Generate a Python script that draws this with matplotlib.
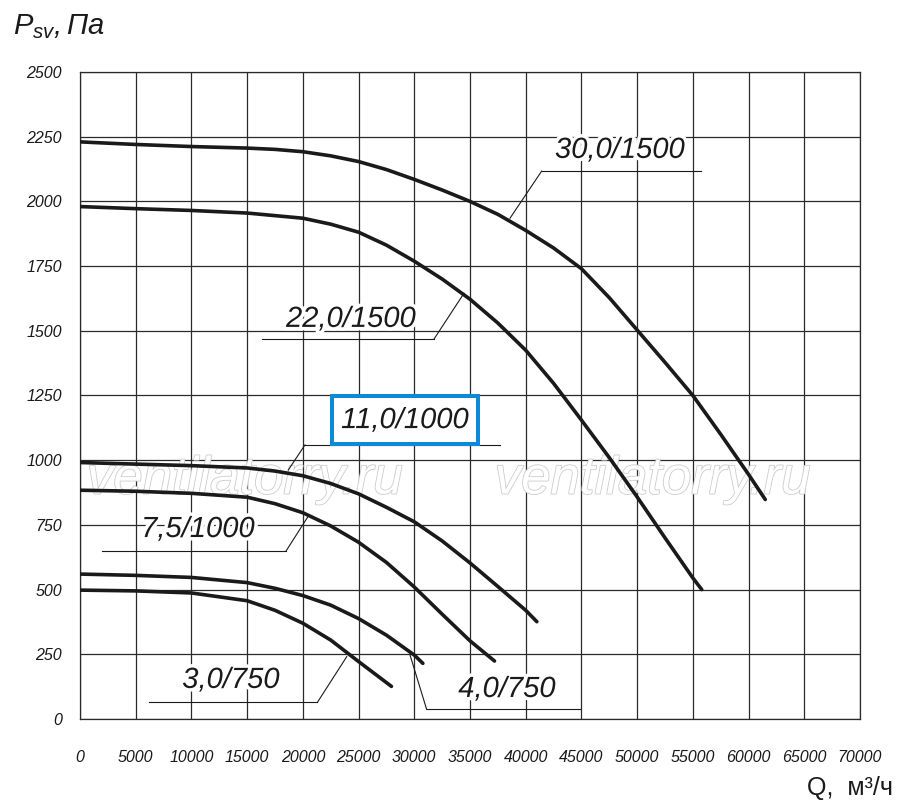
import matplotlib
matplotlib.use("Agg")
import matplotlib.pyplot as plt
import matplotlib.patheffects as pe
from matplotlib import font_manager as fm
from matplotlib.patches import Rectangle

# ---------------- data ----------------
q_30 = [0, 5000, 10000, 15000, 17500, 20000, 22500, 25000, 27500, 30000, 32500, 35000,
        37500, 40000, 42500, 45000, 47500, 50000, 52500, 55000, 57500, 60000, 61500]
p_30 = [2230, 2220, 2212, 2206, 2201, 2192, 2176, 2154, 2123, 2085, 2044, 2000,
        1950, 1888, 1820, 1740, 1628, 1503, 1378, 1250, 1100, 945, 848]

q_22 = [0, 5000, 10000, 15000, 20000, 22500, 25000, 27500, 30000, 32500, 35000,
        37500, 40000, 42500, 45000, 47500, 50000, 52500, 55000, 55800]
p_22 = [1980, 1972, 1965, 1955, 1935, 1912, 1881, 1831, 1769, 1700, 1622,
        1530, 1425, 1297, 1155, 1010, 858, 700, 545, 500]

q_11 = [0, 5000, 10000, 15000, 17500, 20000, 22500, 25000, 27500, 30000, 32500,
        35000, 37500, 40000, 41000]
p_11 = [991, 985, 979, 970, 958, 940, 910, 870, 818, 762, 688,
        603, 512, 420, 376]

q_75 = [0, 5000, 10000, 15000, 17500, 20000, 22500, 25000, 27500, 30000, 32500, 35000, 37200]
p_75 = [884, 880, 872, 857, 832, 797, 746, 683, 605, 510, 405, 302, 224]

q_40 = [0, 5000, 10000, 15000, 17500, 20000, 22500, 25000, 27500, 30000, 30770]
p_40 = [560, 555, 547, 527, 505, 477, 440, 388, 324, 247, 215]

q_30s = [0, 5000, 10000, 15000, 17500, 20000, 22500, 25000, 27950]
p_30s = [498, 495, 487, 457, 420, 370, 305, 222, 126]

series = [(q_30, p_30), (q_22, p_22), (q_11, p_11), (q_75, p_75), (q_40, p_40), (q_30s, p_30s)]

x_ticks = list(range(0, 70001, 5000))
y_ticks = list(range(0, 2501, 250))

# labels: text, text centre, underline (x at leader, x other end, y), leader end on curve
labels = [
    ("30,0/1500", (48460, 2199), (41430, 55730, 2117), (38590, 1935)),
    ("22,0/1500", (24320, 1546), (31770, 16310, 1468), (34460, 1645)),
    ("11,0/1000", (29170, 1155), (20190, 37690, 1059), (18690, 962)),
    ("7,5/1000", (10590, 734), (18490, 1950, 649), (20490, 784)),
    ("3,0/750", (13550, 151), (21300, 6220, 64), (23940, 241)),
    ("4,0/750", (38320, 116), (31110, 44870, 37), (29620, 247)),
]
box_11 = (22590, 1063, 35750 - 22590, 1248 - 1063)

# ---------------- fonts ----------------
names = {f.name for f in fm.fontManager.ttflist}
tick_font = "Liberation Sans Narrow" if "Liberation Sans Narrow" in names else "Liberation Sans"
tick_size = 12.5 if tick_font == "Liberation Sans Narrow" else 11.5
main_font = "Liberation Sans"
plt.rcParams["mathtext.fontset"] = "custom"
plt.rcParams["mathtext.it"] = "Liberation Sans:italic"
plt.rcParams["mathtext.rm"] = "Liberation Sans:italic"

fig = plt.figure(figsize=(9, 8.07), dpi=100)
ax = fig.add_axes([80/900, 1 - 719/807, 780/900, 647/807])

ax.set_xlim(0, 70000)
ax.set_ylim(0, 2500)
ax.set_xticks(x_ticks)
ax.set_yticks(y_ticks)
ax.set_xticklabels([str(v) for v in x_ticks])
ax.set_yticklabels([str(v) for v in y_ticks])
ax.tick_params(length=0, pad=0)
ax.tick_params(axis="x", pad=22)
ax.tick_params(axis="y", pad=13)
for lab in ax.get_xticklabels() + ax.get_yticklabels():
    lab.set_fontfamily(tick_font)
    lab.set_fontstyle("italic")
    lab.set_fontsize(tick_size)
    lab.set_color("#1a1a1a")
ax.grid(True, color="#2a2a2a", linewidth=0.9, zorder=0)
ax.set_axisbelow(True)
for s in ax.spines.values():
    s.set_color("#2a2a2a")
    s.set_linewidth(0.9)

# watermark
for xc in (14800, 51400):
    ax.text(xc, 925, "ventilatorry.ru", ha="center", va="center",
            fontfamily=main_font, fontstyle="italic", fontsize=38,
            color="white", zorder=1.5,
            path_effects=[pe.Stroke(linewidth=1.2, foreground="#cccccc"), pe.Normal()])

for q, p in series:
    ax.plot(q, p, color="#1a1a1a", linewidth=2.6, solid_capstyle="round",
            solid_joinstyle="round", zorder=3)

for text, (tx, ty), (ux0, ux1, uy), (lx, ly) in labels:
    ax.plot([ux0, ux1], [uy, uy], color="#1a1a1a", linewidth=0.8, zorder=2.5)
    ax.plot([ux0, lx], [uy, ly], color="#1a1a1a", linewidth=0.8, zorder=2.5)
    ax.text(tx, ty, text, ha="center", va="center", fontfamily=main_font,
            fontstyle="italic", fontsize=21, color="#1a1a1a", zorder=4,
            path_effects=[pe.Stroke(linewidth=5, foreground="white"), pe.Normal()])

ax.add_patch(Rectangle((box_11[0], box_11[1]), box_11[2], box_11[3],
                       facecolor="white", edgecolor="#0a8ad8", linewidth=2.9, zorder=3.5))

# axis labels
fig.text(13/900, 1 - 34/807, r"$P_{sv},Па$", fontsize=21, color="#1a1a1a", va="baseline")
fig.text(893/900, 1 - 795/807, "Q,  м³/ч", fontfamily=main_font,
         fontsize=18, color="#1a1a1a", ha="right", va="baseline")

fig.savefig("out.png", dpi=100, facecolor="white")
